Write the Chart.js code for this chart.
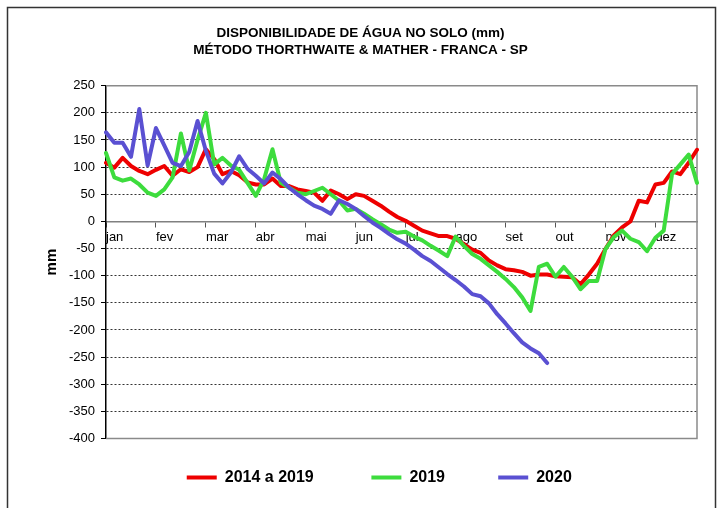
<!DOCTYPE html>
<html>
<head>
<meta charset="utf-8">
<script src="https://cdn.jsdelivr.net/npm/chart.js@4/dist/chart.umd.min.js"></script>
<style>
  html, body { margin: 0; padding: 0; background: #fff; }
  #wrap { width: 721px; height: 508px; position: relative; }
</style>
</head>
<body>
<div id="wrap"><canvas id="c" width="721" height="508"></canvas></div>
<script>
// ---- data ----
const months = ['jan','fev','mar','abr','mai','jun','jul','ago','set','out','nov','dez'];
const periodsPerMonth = 6;
const categories = [];
for (let m = 0; m < months.length; m++) {
  for (let k = 0; k < periodsPerMonth; k++) categories.push(k === 0 ? months[m] : '');
}
const yTicksMin = -400, yTicksMax = 250, yStep = 50;

const seriesNames = ['2014 a 2019', '2019', '2020'];
const media2014a2019 = [108, 99, 117, 102, 93, 87, 95, 102, 84, 96,
  91, 100, 133, 115, 87, 93, 85, 72, 68, 68,
  79, 65, 65, 59, 56, 53, 38, 57, 50, 41,
  50, 47, 38, 29, 18, 8, 1, -8, -17, -22,
  -27, -27, -32, -42, -52, -58, -72, -81, -88, -90,
  -93, -100, -98, -98, -101, -102, -103, -116, -98, -78,
  -51, -26, -11, 0, 38, 35, 68, 71, 92, 87,
  108, 132];
const ano2019 = [126, 81, 75, 79, 68, 53, 47, 59, 81, 162,
  94, 150, 200, 105, 117, 103, 95, 71, 47, 78,
  133, 71, 62, 53, 50, 56, 62, 50, 38, 20,
  23, 14, 4, -5, -15, -21, -19, -28, -35, -45,
  -54, -64, -28, -45, -60, -69, -81, -93, -106, -121,
  -140, -165, -84, -78, -102, -84, -102, -125, -110, -110,
  -51, -29, -17, -32, -38, -55, -30, -17, 87, 105,
  123, 71];
const ano2020 = [164, 145, 145, 119, 207, 103, 172, 140, 108, 102,
  128, 185, 130, 88, 70, 90, 120, 97, 84, 70,
  90, 78, 62, 50, 39, 29, 23, 14, 39, 32,
  23, 10, -2, -12, -23, -33, -41, -52, -64, -73,
  -85, -97, -108, -120, -134, -138, -151, -171, -188, -206,
  -223, -234, -243, -261];

// ---- style ----
const FONT = "'Liberation Sans', Arial, sans-serif";
const colors = ['#ee0000', '#3ddc3d', '#5a50d2'];
const legendPad = [6, 5, 10];

const framePlugin = {
  id: 'frame',
  beforeDraw(chart) {
    const ctx = chart.ctx;
    ctx.save();
    ctx.fillStyle = '#fff';
    ctx.fillRect(0, 0, chart.width, chart.height);
    ctx.strokeStyle = '#333';
    ctx.lineWidth = 1.5;
    ctx.strokeRect(7.5, 7.5, 708, 530);
    ctx.restore();
  },
  beforeDatasetsDraw(chart) {
    const {ctx, chartArea: a} = chart;
    ctx.save();
    ctx.strokeStyle = '#8a8a8a';
    ctx.lineWidth = 1.5;
    ctx.beginPath();
    ctx.moveTo(a.left, a.top);
    ctx.lineTo(a.right, a.top);
    ctx.lineTo(a.right, a.bottom);
    ctx.lineTo(a.left, a.bottom);
    ctx.stroke();
    ctx.restore();
  }
};

const mkDs = (label, data, color, order) => ({
  label, data, order,
  borderColor: color, backgroundColor: color,
  borderWidth: 4, pointRadius: 0, pointHoverRadius: 0,
  tension: 0, fill: false, spanGaps: false,
  borderJoinStyle: 'round', borderCapStyle: 'round'
});

new Chart(document.getElementById('c'), {
  type: 'line',
  data: {
    labels: categories,
    datasets: [
      mkDs(seriesNames[0], media2014a2019, colors[0], 3),
      mkDs(seriesNames[1], ano2019, colors[1], 2),
      mkDs(seriesNames[2], ano2020, colors[2], 1)
    ]
  },
  options: {
    responsive: false,
    animation: false,
    devicePixelRatio: 1,
    layout: { padding: { left: 24, right: 24, top: 10, bottom: 12.5 } },
    plugins: {
      tooltip: { enabled: false },
      title: {
        display: true,
        text: ['DISPONIBILIDADE DE ÁGUA NO SOLO (mm)', 'MÉTODO THORTHWAITE & MATHER - FRANCA - SP'],
        color: '#000',
        font: { family: FONT, size: 13.5, weight: 'bold', lineHeight: 17 / 13.5 },
        padding: { top: 15, bottom: 26.7 }
      },
      legend: {
        position: 'bottom',
        fullSize: false,
        labels: {
          color: '#000',
          font: { family: FONT, size: 16, weight: 'bold' },
          boxWidth: 30,
          boxHeight: 4,
          padding: 31,
          generateLabels: (chart) => chart.data.datasets.map((ds, i) => ({
            text: ds.label + '\u00a0'.repeat(legendPad[i]),
            fillStyle: ds.borderColor,
            strokeStyle: ds.borderColor,
            lineWidth: 0,
            hidden: false,
            datasetIndex: i,
            fontColor: '#000'
          }))
        }
      }
    },
    scales: {
      x: {
        type: 'category',
        position: { y: 0 },
        offset: false,
        grid: {
          drawOnChartArea: false,
          drawTicks: true,
          tickLength: 5,
          color: (c) => (c.index % periodsPerMonth === 0 ? '#555' : 'rgba(0,0,0,0)'),
          tickColor: (c) => (c.index % periodsPerMonth === 0 ? '#555' : 'rgba(0,0,0,0)')
        },
        border: { display: true, color: '#808080', width: 1.5 },
        ticks: {
          autoSkip: false, maxRotation: 0, minRotation: 0,
          align: 'start', padding: 3, color: '#000',
          font: { family: FONT, size: 13 }
        }
      },
      y: {
        position: 'left',
        min: yTicksMin, max: yTicksMax,
        afterFit: (s) => { s.width = 82; },
        ticks: { stepSize: yStep, color: '#000', padding: 6, font: { family: FONT, size: 13 } },
        grid: {
          color: (c) => {
            const v = c.tick ? c.tick.value : null;
            return (v === 0 || v === yTicksMax || v === yTicksMin) ? 'rgba(0,0,0,0)' : '#333';
          },
          lineWidth: 1,
          tickLength: 5,
          tickColor: '#000',
          tickBorderDash: []
        },
        border: { display: true, color: '#000', width: 1.5, dash: [2, 2] },
        title: {
          display: true, text: 'mm', color: '#000',
          font: { family: FONT, size: 15, weight: 'bold' },
          padding: { top: 19, bottom: 0 }
        }
      }
    }
  },
  plugins: [framePlugin]
});
</script>
</body>
</html>
